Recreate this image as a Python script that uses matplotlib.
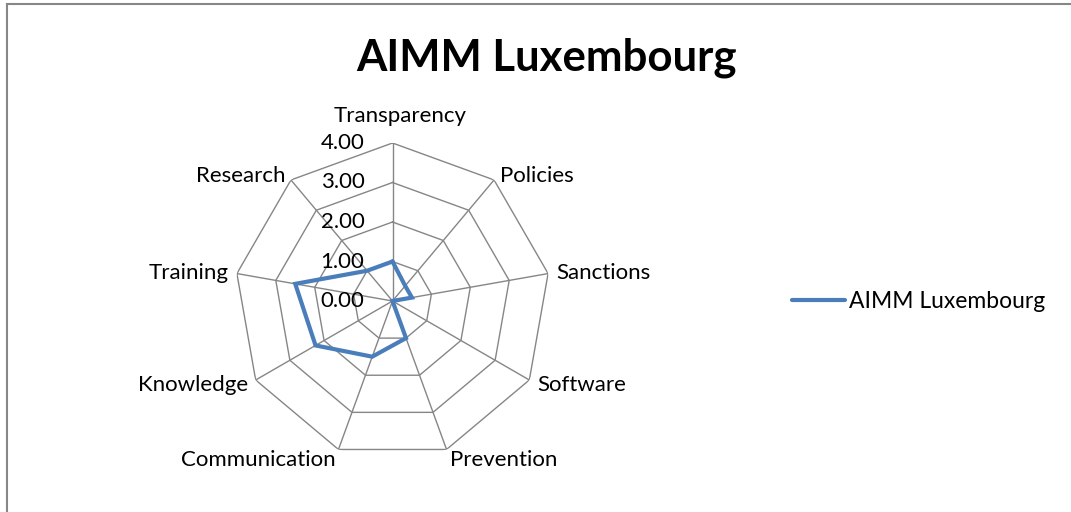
import numpy as np
import matplotlib
matplotlib.use("Agg")
import matplotlib.pyplot as plt
from matplotlib.lines import Line2D

categories = ["Transparency", "Policies", "Sanctions", "Software", "Prevention",
              "Communication", "Knowledge", "Training", "Research"]
values = [1.0, 0.5, 0.5, 0.0, 1.0, 1.5, 2.25, 2.5, 1.0]
ring_values = [1, 2, 3, 4]
tick_values = [0, 1, 2, 3, 4]
tick_labels = ["0.00", "1.00", "2.00", "3.00", "4.00"]
series_name = "AIMM Luxembourg"
title = "AIMM Luxembourg"

FONT = "Lato"
plt.rcParams['font.family'] = [FONT, 'DejaVu Sans']

W, H = 1071, 512
fig = plt.figure(figsize=(W / 100, H / 100), dpi=100)
fig.patch.set_facecolor("white")

# outer chart border (only left and top edges visible in reference)
border_col = "#878787"
fig.add_artist(Line2D([7 / W, 7 / W], [0, 1 - 4 / H], transform=fig.transFigure,
                      color=border_col, lw=1.5))
fig.add_artist(Line2D([7 / W, 1], [1 - 4 / H, 1 - 4 / H], transform=fig.transFigure,
                      color=border_col, lw=1.5))

cx, cy, R = 392.5, 301, 158
ax = fig.add_axes([(cx - R) / W, (H - cy - R) / H, 2 * R / W, 2 * R / H], projection="polar")
ax.set_theta_zero_location("N")
ax.set_theta_direction(-1)
ax.set_ylim(0, 4)
ax.grid(False)
ax.spines["polar"].set_visible(False)
ax.set_xticks([])
ax.set_yticks([])
ax.patch.set_alpha(0)

n = len(categories)
angles = np.arange(n) * 2 * np.pi / n
closed = np.append(angles, angles[0])
grid_col = "#868686"
for rv in ring_values:
    ax.plot(closed, [rv] * (n + 1), color=grid_col, lw=1.0, zorder=1)
for a in angles:
    ax.plot([a, a], [0, 4], color=grid_col, lw=1.0, zorder=1)

vals = np.append(values, values[0])
line, = ax.plot(closed, vals, color="#4A7EBB", lw=3.0, solid_joinstyle="miter",
                solid_capstyle="round", zorder=3, label=series_name)

# value axis labels
for v, lab in zip(tick_values, tick_labels):
    ax.annotate(lab, xy=(0, v), xytext=(-28, 0), textcoords="offset pixels",
                ha="right", va="center", fontsize=16, color="black", zorder=4)

# category labels
label_off = {
    0: (8, 27, "center"),
    1: (6, 4, "left"),
    2: (8, 1, "left"),
    3: (8, -5, "left"),
    4: (3, -11, "left"),
    5: (-3, -11, "right"),
    6: (-8, -5, "right"),
    7: (-8, 1, "right"),
    8: (-5, 4, "right"),
}
for i, (a, cat) in enumerate(zip(angles, categories)):
    dx, dy, ha = label_off[i]
    ax.annotate(cat, xy=(a, 4), xytext=(dx, dy), textcoords="offset pixels",
                ha=ha, va="center", fontsize=16, color="black", annotation_clip=False)

fig.text(546 / W, 1 - 58 / H, title, ha="center", va="center", fontsize=31.5,
         fontweight="bold", color="black")

fig.legend(handles=[line], labels=[series_name], loc="center left",
           bbox_to_anchor=(783 / W, 1 - 302 / H), frameon=False, fontsize=16.5,
           handlelength=2.3, handletextpad=0.2, borderaxespad=0)

fig.savefig("out.png", dpi=100, facecolor="white")
